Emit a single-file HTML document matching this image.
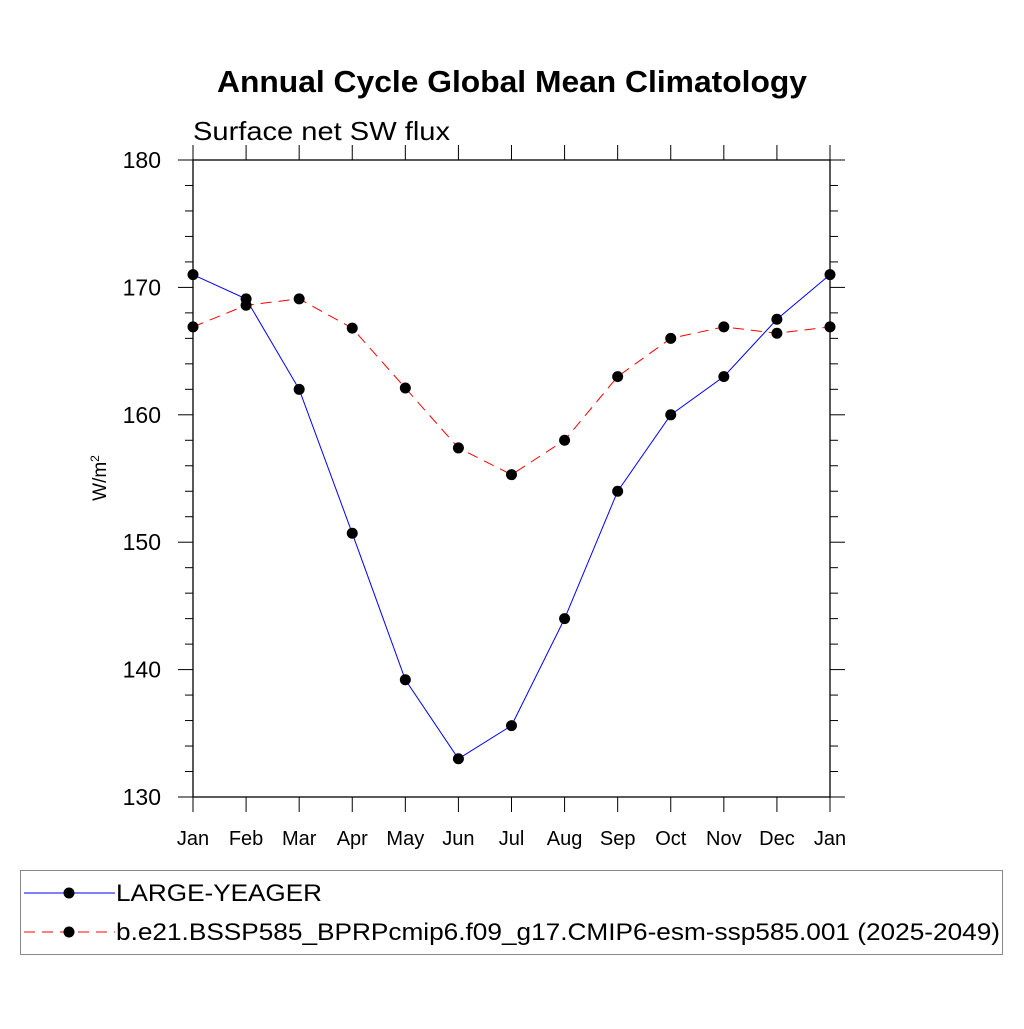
<!DOCTYPE html>
<html><head><meta charset="utf-8"><style>
body{margin:0;background:#fff;width:1024px;height:1024px;overflow:hidden}
svg text{font-family:"Liberation Sans",sans-serif}
</style></head><body>
<svg id="chart" width="1024" height="1024" viewBox="0 0 1024 1024">
<rect width="1024" height="1024" fill="#fff"/>
<text x="217" y="92" textLength="590" lengthAdjust="spacingAndGlyphs" font-size="31" font-weight="bold">Annual Cycle Global Mean Climatology</text>
<text x="193" y="140" textLength="257" lengthAdjust="spacingAndGlyphs" font-size="26">Surface net SW flux</text>
<text transform="translate(106,478) rotate(-90)" text-anchor="middle" font-size="19">W/m<tspan dy="-7" font-size="12">2</tspan></text>
<g id="axes"></g>
<g id="series"></g>
<rect x="20.5" y="870.5" width="982" height="84" fill="none" stroke="#888" stroke-width="1"/>
<g>
<line x1="24" y1="893" x2="115" y2="893" stroke="#00f" stroke-width="1"/>
<circle cx="69" cy="893" r="5.5" fill="#000"/>
<text x="116" y="901" textLength="206" lengthAdjust="spacingAndGlyphs" font-size="24">LARGE-YEAGER</text>
</g>
<g>
<line x1="24" y1="932" x2="115" y2="932" stroke="#f00" stroke-width="1" stroke-dasharray="11,7"/>
<circle cx="69" cy="932" r="5.5" fill="#000"/>
<text x="116" y="940" textLength="884" lengthAdjust="spacingAndGlyphs" font-size="24">b.e21.BSSP585_BPRPcmip6.f09_g17.CMIP6-esm-ssp585.001 (2025-2049)</text>
</g>
</svg>
<script>
const months=["Jan","Feb","Mar","Apr","May","Jun","Jul","Aug","Sep","Oct","Nov","Dec","Jan"];
const blueValues=[171.0,169.1,162.0,150.7,139.2,133.0,135.6,144.0,154.0,160.0,163.0,167.5,171.0];
const redValues=[166.9,168.6,169.1,166.8,162.1,157.4,155.3,158.0,163.0,166.0,166.9,166.4,166.9];
const yTicks=[130,140,150,160,170,180];
const NS="http://www.w3.org/2000/svg";
const L=193,R=830,T=160,B=797,yMin=130,yMax=180;
const xs=i=>L+(R-L)*i/(months.length-1);
const ys=v=>B-(v-yMin)/(yMax-yMin)*(B-T);
function mk(tag,attrs,parent){const e=document.createElementNS(NS,tag);for(const k in attrs)e.setAttribute(k,attrs[k]);parent.appendChild(e);return e;}
const ax=document.getElementById('axes');
const frame=mk('rect',{x:L,y:T,width:R-L,height:B-T,fill:'none',stroke:'#000','stroke-width':1.3},ax);


months.forEach((m,i)=>{
 const x=xs(i);
 mk('line',{x1:x,y1:B,x2:x,y2:B+15,stroke:'#000','stroke-width':1},ax);
 mk('line',{x1:x,y1:T,x2:x,y2:T-15,stroke:'#000','stroke-width':1},ax);
 const t=mk('text',{x:x,y:B+48,'text-anchor':'middle','font-size':20},ax);
 t.textContent=m;
 
 
});
for(let v=yMin;v<=yMax;v+=2){
 const y=ys(v),len=(v%10===0)?15:8;
 mk('line',{x1:L,y1:y,x2:L-len,y2:y,stroke:'#000','stroke-width':1},ax);
 mk('line',{x1:R,y1:y,x2:R+len,y2:y,stroke:'#000','stroke-width':1},ax);
}
yTicks.forEach(v=>{
 const t=mk('text',{x:161,y:ys(v)+8,'text-anchor':'end','font-size':23},ax);
 t.textContent=v;
 
 
});
const sg=document.getElementById('series');
function draw(vals,color,dash,name){
 const pts=vals.map((v,i)=>xs(i)+','+ys(v)).join(' ');
 const pl=mk('polyline',{points:pts,fill:'none',stroke:color,'stroke-width':1,'stroke-dasharray':dash},sg);
 
 
 vals.forEach((v,i)=>{
  const c=mk('circle',{cx:xs(i),cy:ys(v),r:5.5,fill:'#000'},sg);
  
  
 });
}
draw(blueValues,'#00f','none','large-yeager');
draw(redValues,'#f00','11,7','b-e21');
</script>
</body></html>
